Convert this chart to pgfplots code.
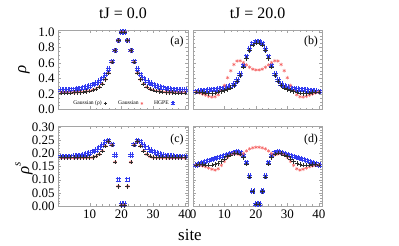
\documentclass[border=0pt]{standalone}
\usepackage{fontspec}
\setmainfont{Liberation Serif}
\usepackage{pgfplots}
\usepackage{pgfplotstable}
\pgfplotsset{compat=1.18}

\definecolor{hblue}{RGB}{50,60,240}
\definecolor{gred}{RGB}{245,105,105}
\definecolor{gblack}{RGB}{45,45,45}
\definecolor{framegray}{RGB}{165,165,165}

\pgfdeclareplotmark{hash}{%
  \pgfpathmoveto{\pgfqpoint{-\pgfplotmarksize}{0.38\pgfplotmarksize}}%
  \pgfpathlineto{\pgfqpoint{\pgfplotmarksize}{0.38\pgfplotmarksize}}%
  \pgfpathmoveto{\pgfqpoint{-\pgfplotmarksize}{-0.38\pgfplotmarksize}}%
  \pgfpathlineto{\pgfqpoint{\pgfplotmarksize}{-0.38\pgfplotmarksize}}%
  \pgfpathmoveto{\pgfqpoint{0.38\pgfplotmarksize}{-\pgfplotmarksize}}%
  \pgfpathlineto{\pgfqpoint{0.38\pgfplotmarksize}{\pgfplotmarksize}}%
  \pgfpathmoveto{\pgfqpoint{-0.38\pgfplotmarksize}{-\pgfplotmarksize}}%
  \pgfpathlineto{\pgfqpoint{-0.38\pgfplotmarksize}{\pgfplotmarksize}}%
  \pgfusepathqstroke}

\pgfplotstableread{
s aB aR aH bB bR bH cB cR cH dB dR dH
1 0.215 0.218 0.250 0.228 0.225 0.235 0.185 0.183 0.188 0.156 0.156 0.157
2 0.215 0.218 0.250 0.225 0.215 0.238 0.185 0.183 0.188 0.158 0.155 0.161
3 0.215 0.218 0.252 0.220 0.200 0.243 0.185 0.183 0.188 0.158 0.153 0.165
4 0.215 0.218 0.255 0.215 0.185 0.248 0.185 0.183 0.189 0.157 0.150 0.169
5 0.216 0.219 0.258 0.210 0.170 0.252 0.185 0.183 0.190 0.156 0.145 0.173
6 0.218 0.221 0.263 0.210 0.160 0.256 0.185 0.183 0.191 0.156 0.140 0.177
7 0.222 0.224 0.270 0.215 0.165 0.260 0.185 0.183 0.193 0.158 0.137 0.181
8 0.226 0.228 0.280 0.225 0.190 0.266 0.185 0.183 0.195 0.162 0.142 0.185
9 0.232 0.234 0.290 0.235 0.240 0.272 0.185 0.184 0.198 0.170 0.155 0.189
10 0.240 0.241 0.305 0.245 0.310 0.280 0.185 0.184 0.202 0.180 0.170 0.193
11 0.250 0.251 0.320 0.260 0.410 0.290 0.186 0.185 0.207 0.188 0.185 0.197
12 0.265 0.266 0.340 0.280 0.500 0.305 0.190 0.189 0.213 0.195 0.195 0.201
13 0.290 0.290 0.365 0.310 0.580 0.330 0.198 0.197 0.222 0.200 0.200 0.205
14 0.330 0.330 0.400 0.360 0.625 0.380 0.210 0.210 0.233 0.202 0.198 0.207
15 0.390 0.388 0.450 0.440 0.628 0.460 0.228 0.228 0.245 0.198 0.195 0.204
16 0.470 0.468 0.520 0.550 0.605 0.570 0.245 0.245 0.250 0.185 0.200 0.192
17 0.610 0.610 0.620 0.660 0.575 0.680 0.232 0.232 0.235 0.160 0.210 0.165
18 0.760 0.760 0.760 0.760 0.545 0.780 0.167 0.167 0.195 0.111 0.218 0.114
19 0.890 0.890 0.890 0.830 0.520 0.850 0.075 0.075 0.100 0.055 0.222 0.057
20 1.000 1.000 1.000 0.860 0.510 0.880 0.003 0.003 0.007 0.007 0.224 0.008
21 1.000 1.000 1.000 0.860 0.510 0.880 0.003 0.003 0.007 0.007 0.224 0.008
22 0.890 0.890 0.890 0.830 0.520 0.850 0.075 0.075 0.100 0.055 0.222 0.057
23 0.760 0.760 0.760 0.760 0.545 0.780 0.167 0.167 0.195 0.111 0.218 0.114
24 0.610 0.610 0.620 0.660 0.575 0.680 0.232 0.232 0.235 0.160 0.210 0.165
25 0.470 0.468 0.520 0.550 0.605 0.570 0.245 0.245 0.250 0.185 0.200 0.192
26 0.390 0.388 0.450 0.440 0.628 0.460 0.228 0.228 0.245 0.198 0.195 0.204
27 0.330 0.330 0.400 0.360 0.625 0.380 0.210 0.210 0.233 0.202 0.198 0.207
28 0.290 0.290 0.365 0.310 0.580 0.330 0.198 0.197 0.222 0.200 0.200 0.205
29 0.265 0.266 0.340 0.280 0.500 0.305 0.190 0.189 0.213 0.195 0.195 0.201
30 0.250 0.251 0.320 0.260 0.410 0.290 0.186 0.185 0.207 0.188 0.185 0.197
31 0.240 0.241 0.305 0.245 0.310 0.280 0.185 0.184 0.202 0.180 0.170 0.193
32 0.232 0.234 0.290 0.235 0.240 0.272 0.185 0.184 0.198 0.170 0.155 0.189
33 0.226 0.228 0.280 0.225 0.190 0.266 0.185 0.183 0.195 0.162 0.142 0.185
34 0.222 0.224 0.270 0.215 0.165 0.260 0.185 0.183 0.193 0.158 0.137 0.181
35 0.218 0.221 0.263 0.210 0.160 0.256 0.185 0.183 0.191 0.156 0.140 0.177
36 0.216 0.219 0.258 0.210 0.170 0.252 0.185 0.183 0.190 0.156 0.145 0.173
37 0.215 0.218 0.255 0.215 0.185 0.248 0.185 0.183 0.189 0.157 0.150 0.169
38 0.215 0.218 0.252 0.220 0.200 0.243 0.185 0.183 0.188 0.158 0.153 0.165
39 0.215 0.218 0.250 0.225 0.215 0.238 0.185 0.183 0.188 0.158 0.155 0.161
40 0.215 0.218 0.250 0.228 0.225 0.235 0.185 0.183 0.188 0.156 0.156 0.157
}\datatable

\pgfplotsset{
  panel/.style={
    scale only axis, width=130bp, xmin=0, xmax=41, clip=false,
    axis line style={framegray, line width=0.6pt},
    tick style={framegray, line width=0.4pt},
    major tick length=3bp, minor tick length=1.6bp, tick align=inside,
    xtick={10,20,30,40}, minor x tick num=4,
    tick label style={font=\fontsize{13}{13}\selectfont},
    /pgf/number format/assume math mode=true,
  },
  hplot/.style={only marks, mark=hash, mark size=2.7bp, hblue, line width=0.55pt},
  rplot/.style={only marks, mark=asterisk, mark size=1.8bp, gred, line width=0.5pt},
  kplot/.style={only marks, mark=+, mark size=2.3bp, gblack, line width=0.55pt},
}

\begin{document}
\begin{tikzpicture}
\path[use as bounding box] (0,0) rectangle (399bp,246bp);

% (a)
\begin{axis}[panel, at={(58bp,136.5bp)}, anchor=south west, height=79.5bp,
  ymin=0, ymax=1.025, ytick={0,0.2,0.4,0.6,0.8,1}, minor y tick num=3,
  yticklabel style={/pgf/number format/.cd, fixed, fixed zerofill, precision=1},
  xticklabels={},
  legend style={at={(0.5,0.015)}, anchor=south, legend columns=3, draw=none, fill=none,
    font=\fontsize{5.6}{6}\selectfont, inner sep=0pt,
    /tikz/every even column/.append style={column sep=9bp}},
  legend plot pos=right, legend cell align=left]
\addlegendimage{kplot, mark size=1.8bp}\addlegendentry{Gaussian (ρ)}
\addlegendimage{rplot, mark size=1.4bp}\addlegendentry{Gaussian}
\addlegendimage{hplot, mark size=2bp}\addlegendentry{HGPE}
\addplot[hplot, forget plot] table[x=s, y=aH] {\datatable};
\addplot[rplot, forget plot] table[x=s, y=aR] {\datatable};
\addplot[kplot, forget plot] table[x=s, y=aB] {\datatable};
\node[font=\fontsize{12}{12}\selectfont] at ([xshift=-11bp, yshift=-12bp]rel axis cs:1,1) {(a)};
\node[font=\fontsize{16}{16}\selectfont] at ([yshift=17bp]rel axis cs:0.5,1) {tJ = 0.0};
\node[font=\fontsize{17}{17}\selectfont\itshape, rotate=90] at ([xshift=-34bp]rel axis cs:0,0.5) {ρ};
\end{axis}

% (b)
\begin{axis}[panel, at={(193bp,136.5bp)}, anchor=south west, width=129bp, height=79.5bp,
  ymin=0, ymax=1.025, ytick={0,0.2,0.4,0.6,0.8,1}, minor y tick num=3,
  yticklabels={}, xticklabels={}]
\addplot[hplot] table[x=s, y=bH] {\datatable};
\addplot[rplot] table[x=s, y=bR] {\datatable};
\addplot[kplot] table[x=s, y=bB] {\datatable};
\node[font=\fontsize{12}{12}\selectfont] at ([xshift=-11bp, yshift=-12bp]rel axis cs:1,1) {(b)};
\node[font=\fontsize{16}{16}\selectfont] at ([yshift=17bp]rel axis cs:0.5,1) {tJ = 20.0};
\end{axis}

% (c)
\begin{axis}[panel, at={(58bp,40bp)}, anchor=south west, height=80bp,
  ymin=0, ymax=0.305, ytick={0,0.05,0.1,0.15,0.2,0.25,0.3}, minor y tick num=4,
  yticklabel style={/pgf/number format/.cd, fixed, fixed zerofill, precision=2}]
\addplot[hplot] table[x=s, y=cH] {\datatable};
\addplot[rplot] table[x=s, y=cR] {\datatable};
\addplot[kplot] table[x=s, y=cB] {\datatable};
\node[font=\fontsize{12}{12}\selectfont] at ([xshift=-11bp, yshift=-14bp]rel axis cs:1,1) {(c)};
\node[font=\fontsize{17}{17}\selectfont\itshape, rotate=90] at ([xshift=-34bp, yshift=-2bp]rel axis cs:0,0.5) {ρ\raisebox{1.1ex}{\fontsize{11}{11}\selectfont\itshape s}};
\end{axis}

% (d)
\begin{axis}[panel, at={(193bp,40bp)}, anchor=south west, width=129bp, height=80bp,
  ymin=0, ymax=0.305, ytick={0,0.05,0.1,0.15,0.2,0.25,0.3}, minor y tick num=4,
  yticklabels={}, xtick={0,10,20,30,40}]
\addplot[hplot] table[x=s, y=dH] {\datatable};
\addplot[rplot] table[x=s, y=dR] {\datatable};
\addplot[kplot] table[x=s, y=dB] {\datatable};
\node[font=\fontsize{12}{12}\selectfont] at ([xshift=-11bp, yshift=-14bp]rel axis cs:1,1) {(d)};
\end{axis}

\node[font=\fontsize{17}{17}\selectfont] at (190bp,11bp) {site};
\end{tikzpicture}
\end{document}
